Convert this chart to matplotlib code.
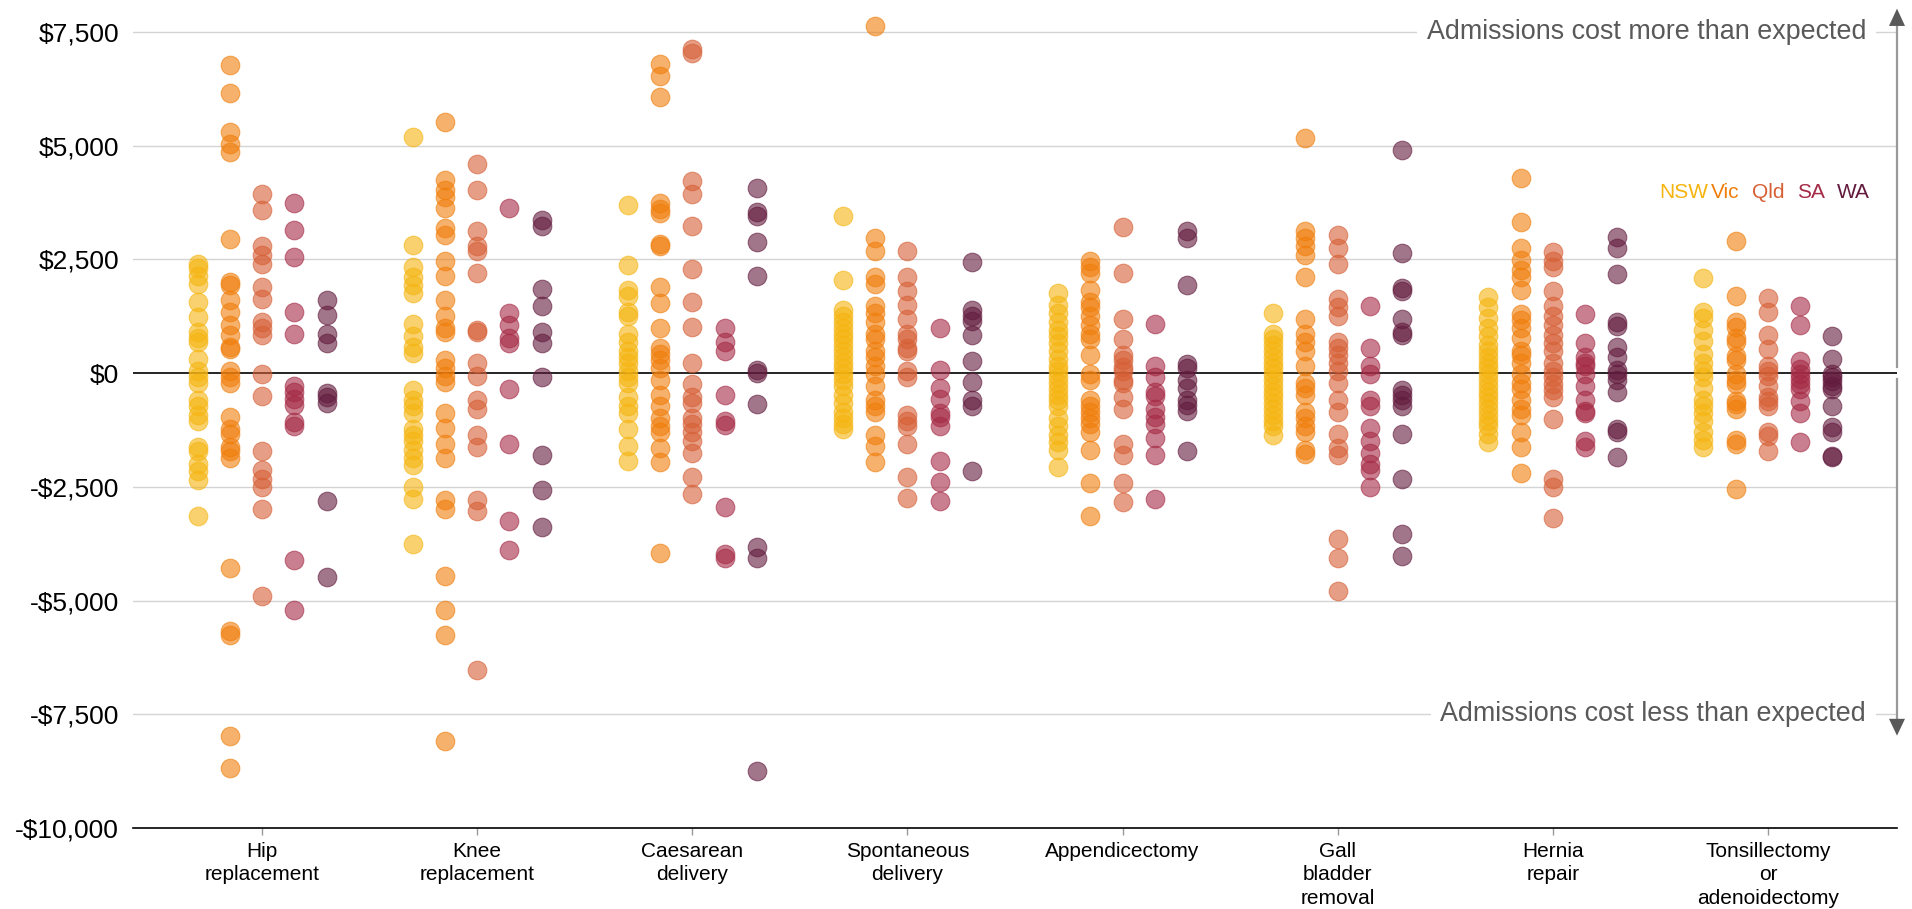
import matplotlib
matplotlib.use("Agg")
import matplotlib.pyplot as plt
from matplotlib.patches import Polygon
from matplotlib.ticker import FuncFormatter, FixedLocator
import matplotlib.transforms as mtransforms

plt.rcParams['font.family'] = ['Liberation Sans', 'DejaVu Sans']

categories = ["Hip\nreplacement", "Knee\nreplacement", "Caesarean\ndelivery",
              "Spontaneous\ndelivery", "Appendicectomy", "Gall\nbladder\nremoval",
              "Hernia\nrepair", "Tonsillectomy\nor\nadenoidectomy"]
states = ["NSW", "Vic", "Qld", "SA", "WA"]
state_colors = ["#F5B40F", "#F07D0A", "#D65F35", "#A52A45", "#621B3D"]

# Difference between actual and expected cost ($) per hospital, by category and state
hip_nsw = [2399, 2310, 2144, 1952, 1570, 1225, 906, 766, 676, 319, 38, -89, -217, -600, -727, -919, -1046, -1620, -1723, -2003, -2156, -2361, -3152]
hip_vic = [6763, 6163, 5295, 5040, 4862, 2948, 1991, 1927, 1595, 1353, 1059, 829, 574, 523, 38, -89, -217, -957, -1238, -1340, -1620, -1723, -1876, -4275, -5678, -5768, -7975, -8677]
hip_qld = [3930, 3586, 2782, 2590, 2399, 1889, 1633, 1123, 995, 829, -26, -510, -1723, -2131, -2322, -2514, -2999, -4900]
hip_sa = [3739, 3139, 2552, 1353, 868, -281, -408, -574, -702, -1085, -1174, -4109, -5219]
hip_wa = [1595, 1276, 868, 651, -447, -536, -664, -2807, -4492]

knee_nsw = [5181, 2820, 2335, 2105, 1927, 1761, 1085, 804, 574, 447, -370, -600, -727, -880, -1238, -1365, -1493, -1684, -1876, -2029, -2514, -2769, -3751]
knee_vic = [5525, 4249, 4019, 3866, 3637, 3190, 3037, 2463, 2144, 1608, 1250, 995, 906, 293, 102, -64, -191, -880, -1199, -1557, -1876, -2794, -2986, -4466, -5219, -5768, -8090]
knee_qld = [4594, 4019, 3126, 2782, 2680, 2207, 957, 906, 230, -64, -600, -791, -1365, -1620, -2794, -3024, -6533]
knee_sa = [3637, 1314, 1059, 778, 651, -345, -1557, -3254, -3892]
knee_wa = [3356, 3228, 1850, 1467, 893, 651, -89, -1812, -2578, -3381]

caes_nsw = [3700, 2373, 1825, 1697, 1353, 1250, 868, 676, 485, 357, 230, 38, -89, -217, -536, -727, -880, -1238, -1595, -1940]
caes_vic = [6801, 6520, 6061, 3739, 3611, 3509, 2845, 2782, 1889, 1544, 995, 549, 421, 293, 102, -153, -472, -727, -983, -1174, -1302, -1646, -1965, -3956]
caes_qld = [7120, 7031, 4224, 3930, 3228, 2297, 1570, 1021, 230, -242, -536, -664, -983, -1110, -1302, -1493, -1748, -2284, -2667]
caes_sa = [995, 676, 485, -472, -1046, -1136, -2935, -3981, -4070]
caes_wa = [4058, 3547, 3458, 2871, 2144, 64, 0, -689, -3828, -4070, -8741]

spon_nsw = [3458, 2042, 1378, 1250, 1123, 995, 868, 740, 612, 485, 357, 230, 102, -26, -153, -281, -472, -664, -855, -983, -1110, -1238]
spon_vic = [7631, 2973, 2692, 2105, 1952, 1467, 1314, 1123, 868, 740, 485, 357, 166, -26, -281, -600, -727, -855, -1365, -1595, -1965]
spon_qld = [2692, 2118, 1799, 1506, 1187, 868, 740, 549, 485, 38, -89, -919, -1046, -1174, -1557, -2284, -2743]
spon_sa = [983, 64, -319, -574, -880, -957, -1174, -1940, -2386, -2807]
spon_wa = [2437, 1378, 1250, 1150, 829, 268, -191, -600, -727, -2156]

appe_nsw = [1761, 1506, 1314, 1123, 957, 804, 651, 485, 319, 166, 38, -89, -217, -345, -472, -600, -727, -983, -1174, -1365, -1518, -1684, -2067]
appe_vic = [2463, 2335, 2207, 1825, 1570, 1442, 1250, 1059, 868, 740, 396, -26, -153, -600, -727, -855, -983, -1110, -1302, -1684, -2424, -3152]
appe_qld = [3203, 2207, 1187, 740, 396, 293, 140, 38, -153, -217, -536, -791, -1557, -1812, -2424, -2833]
appe_sa = [1085, 166, -89, -408, -498, -791, -957, -1110, -1429, -1812, -2769]
appe_wa = [3126, 2973, 1927, 191, 102, -153, -319, -600, -702, -829, -1710]

gall_nsw = [1314, 868, 740, 612, 485, 357, 230, 102, -26, -153, -281, -408, -536, -664, -791, -919, -1046, -1174, -1365]
gall_vic = [5168, 3126, 2973, 2782, 2590, 2105, 1187, 868, 676, 485, 166, -217, -319, -472, -855, -983, -1174, -1302, -1684, -1786]
gall_qld = [3037, 2743, 2399, 1633, 1442, 1250, 676, 549, 396, 230, 38, -217, -600, -855, -1340, -1646, -1812, -3637, -4070, -4785]
gall_sa = [1480, 549, 166, -26, -600, -727, -1212, -1493, -1748, -2003, -2131, -2514]
gall_wa = [4913, 2629, 1863, 1799, 1187, 906, 829, -370, -472, -600, -727, -1340, -2322, -3535, -4019]

hern_nsw = [1672, 1442, 1212, 995, 804, 612, 485, 357, 230, 102, -26, -153, -281, -408, -536, -664, -791, -919, -1046, -1174, -1340, -1518]
hern_vic = [4287, 3318, 2743, 2488, 2271, 2105, 1825, 1289, 1161, 995, 778, 485, 396, 230, -26, -217, -345, -600, -791, -919, -1302, -1620, -2195]
hern_qld = [2654, 2463, 2335, 1799, 1467, 1250, 1059, 829, 651, 485, 230, 38, -89, -242, -370, -536, -1008, -2322, -2514, -3177]
hern_sa = [1289, 651, 357, 230, 166, -26, -281, -600, -829, -880, -1493, -1620]
hern_wa = [2999, 2743, 2182, 1123, 1034, 574, 357, 64, -26, -153, -408, -1238, -1302, -1838]

tons_nsw = [2080, 1340, 1212, 957, 702, 421, 230, 38, -89, -319, -600, -727, -880, -1046, -1302, -1467, -1620]
tons_vic = [2909, 1697, 1123, 1021, 766, 676, 383, 293, -26, -153, -242, -625, -689, -791, -1467, -1557, -2539]
tons_qld = [1659, 1340, 829, 523, 166, 38, -64, -281, -536, -625, -727, -1302, -1391, -1723]
tons_sa = [1476, 1053, 270, 88, -22, -132, -241, -351, -607, -884, -1520]
tons_wa = [818, 307, -22, -94, -168, -278, -351, -717, -1191, -1301, -1813, -1850]

data = [
    [hip_nsw, hip_vic, hip_qld, hip_sa, hip_wa],
    [knee_nsw, knee_vic, knee_qld, knee_sa, knee_wa],
    [caes_nsw, caes_vic, caes_qld, caes_sa, caes_wa],
    [spon_nsw, spon_vic, spon_qld, spon_sa, spon_wa],
    [appe_nsw, appe_vic, appe_qld, appe_sa, appe_wa],
    [gall_nsw, gall_vic, gall_qld, gall_sa, gall_wa],
    [hern_nsw, hern_vic, hern_qld, hern_sa, hern_wa],
    [tons_nsw, tons_vic, tons_qld, tons_sa, tons_wa],
]

y_ticks = [-10000, -7500, -5000, -2500, 0, 2500, 5000, 7500]

W, H = 1912, 909
fig = plt.figure(figsize=(W / 100, H / 100), dpi=100)
ax_left, ax_right, ax_bottom, ax_top = 133, 1897, 828, 0
ax = fig.add_axes([ax_left / W, 1 - ax_bottom / H, (ax_right - ax_left) / W, (ax_bottom - ax_top) / H])

offsets = [-0.3, -0.15, 0.0, 0.15, 0.3]
for ci, cat_vals in enumerate(data):
    for si, vals in enumerate(cat_vals):
        xs = [ci + offsets[si]] * len(vals)
        ax.scatter(xs, vals, s=180, color=state_colors[si], alpha=0.6,
                   edgecolors=state_colors[si], linewidths=0.8, zorder=3)

ax.set_xlim(-0.6, 7.6)
ax.set_ylim(-10000, 8200)

ax.yaxis.set_major_locator(FixedLocator(y_ticks))
def fmt(v, pos):
    v = int(round(v))
    if v < 0:
        return "-${:,}".format(-v)
    return "${:,}".format(v)
ax.yaxis.set_major_formatter(FuncFormatter(fmt))
ax.tick_params(axis='y', length=0, pad=10, labelsize=19, labelcolor='#000000')

ax.set_xticks(range(len(categories)))
ax.set_xticklabels(categories, fontsize=15, linespacing=1.3)
ax.tick_params(axis='x', length=5, width=1, color='#999999', pad=5, labelcolor='#000000')

for yv in y_ticks:
    if yv == 0:
        ax.axhline(0, color='#000000', lw=1.2, zorder=2)
    elif yv > -10000:
        ax.axhline(yv, color='#d4d4d4', lw=1.0, zorder=1)

for sp in ['top', 'right', 'left']:
    ax.spines[sp].set_visible(False)
ax.spines['bottom'].set_color('#000000')
ax.spines['bottom'].set_linewidth(1.2)

# annotations
bt = mtransforms.blended_transform_factory(ax.transAxes, ax.transData)
ax.text(0.9825, 7500, "Admissions cost more than expected", transform=bt,
        ha='right', va='center', fontsize=19.4, color='#595959', zorder=4,
        bbox=dict(boxstyle='square,pad=0.35', fc='white', ec='none'))
ax.text(0.9825, -7500, "Admissions cost less than expected", transform=bt,
        ha='right', va='center', fontsize=19.4, color='#595959', zorder=4,
        bbox=dict(boxstyle='square,pad=0.35', fc='white', ec='none'))

# arrows on right edge
hw = 8 / (ax_right - ax_left)
ax.plot([1.0, 1.0], [130, 7640], transform=bt, color='#999999', lw=1.6, clip_on=False, zorder=5)
ax.plot([1.0, 1.0], [-130, -7600], transform=bt, color='#999999', lw=1.6, clip_on=False, zorder=5)
ax.add_patch(Polygon([[1.0 - hw, 7630], [1.0 + hw, 7630], [1.0, 8010]], closed=True, transform=bt,
                     fc='#595959', ec='none', clip_on=False, zorder=6))
ax.add_patch(Polygon([[1.0 - hw, -7600], [1.0 + hw, -7600], [1.0, -7970]], closed=True, transform=bt,
                     fc='#595959', ec='none', clip_on=False, zorder=6))

# legend as coloured text
legend_x = [1659, 1711, 1752, 1797, 1837]
for name, col, lx in zip(states, state_colors, legend_x):
    fig.text(lx / W, 1 - 192 / H, name, color=col, fontsize=15, ha='left', va='center')

fig.savefig("out.png", dpi=100)
